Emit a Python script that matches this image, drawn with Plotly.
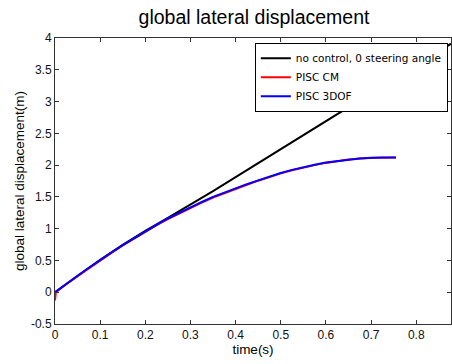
import plotly.graph_objects as go

# ---- data ----
t_black = [0, 0.05, 0.1, 0.15, 0.2, 0.25, 0.3, 0.35, 0.4, 0.45, 0.5, 0.55, 0.6,
           0.65, 0.7, 0.75, 0.8, 0.85, 0.877]
y_black = [0, 0.26, 0.51, 0.745, 0.965, 1.17, 1.375, 1.59, 1.81, 2.03, 2.25, 2.47, 2.69,
           2.91, 3.13, 3.35, 3.57, 3.79, 3.91]

t_blue = [0, 0.025, 0.05, 0.075, 0.1, 0.125, 0.15, 0.175, 0.2, 0.225, 0.25, 0.275, 0.3,
          0.325, 0.35, 0.375, 0.4, 0.425, 0.45, 0.475, 0.5, 0.525, 0.55, 0.575, 0.6,
          0.625, 0.65, 0.675, 0.7, 0.725, 0.75, 0.755]
y_blue = [0, 0.135, 0.26, 0.385, 0.51, 0.625, 0.74, 0.85, 0.96, 1.06, 1.16, 1.25, 1.34,
          1.42, 1.5, 1.57, 1.635, 1.7, 1.76, 1.82, 1.875, 1.925, 1.97, 2.005, 2.04,
          2.065, 2.09, 2.105, 2.115, 2.12, 2.12, 2.12]

t_red = [0, 0.002, 0.025, 0.05, 0.075, 0.1, 0.125, 0.15, 0.175, 0.2, 0.225, 0.25, 0.275,
         0.3, 0.325, 0.35, 0.375, 0.4, 0.425, 0.45, 0.475, 0.5, 0.525, 0.55, 0.575, 0.6,
         0.625, 0.65, 0.675, 0.7, 0.725, 0.75, 0.755]
y_red = [-0.13, 0.0, 0.13, 0.255, 0.38, 0.505, 0.62, 0.735, 0.845, 0.955, 1.055, 1.15,
         1.24, 1.33, 1.41, 1.49, 1.56, 1.625, 1.69, 1.755, 1.815, 1.87, 1.92, 1.965, 2.0,
         2.035, 2.062, 2.088, 2.104, 2.114, 2.12, 2.12, 2.12]

x_ticks = [0, 0.1, 0.2, 0.3, 0.4, 0.5, 0.6, 0.7, 0.8]
y_ticks = [-0.5, 0, 0.5, 1, 1.5, 2, 2.5, 3, 3.5, 4]

font_family = "Liberation Sans, Arial, sans-serif"
legend_family = "DejaVu Sans, Liberation Sans, sans-serif"

fig = go.Figure()
fig.add_trace(go.Scatter(x=t_black, y=y_black, mode="lines", name="no control, 0 steering angle",
                         line=dict(color="black", width=2)))
fig.add_trace(go.Scatter(x=t_red, y=y_red, mode="lines", name="PISC CM",
                         line=dict(color="red", width=2)))
fig.add_trace(go.Scatter(x=t_blue, y=y_blue, mode="lines", name="PISC 3DOF",
                         line=dict(color="blue", width=2)))

axis_common = dict(
    showgrid=False, zeroline=False, showline=True, linecolor="#333333", linewidth=1,
    mirror="ticks", ticks="inside", ticklen=4, tickcolor="#333333", automargin=False,
    tickfont=dict(family=font_family, size=12, color="#111111"),
)

fig.update_layout(
    width=452, height=364,
    margin=dict(l=55, r=1, t=38, b=40),
    paper_bgcolor="white", plot_bgcolor="white",
    font=dict(family=font_family, color="black"),
    title=dict(text="global lateral displacement", x=254 / 452, xanchor="center",
               y=1 - 17 / 364, yanchor="middle", yref="container",
               font=dict(family=font_family, size=19.5, color="black")),
    xaxis=dict(range=[0, 0.877], tickvals=x_ticks, ticktext=[f"{v:g}" for v in x_ticks],
               title=dict(text="time(s)", standoff=1, font=dict(size=13.5, family=font_family)),
               **axis_common),
    yaxis=dict(range=[-0.5, 4], tickvals=y_ticks, ticktext=[f"{v:g}" for v in y_ticks],
               title=dict(text="global lateral displacement(m)", standoff=3,
                          font=dict(size=13.5, family=font_family)),
               **axis_common),
    legend=dict(x=0.992, y=0.983, xanchor="right", yanchor="top",
                bgcolor="white", bordercolor="black", borderwidth=1,
                font=dict(family=legend_family, size=10.5, color="black"),
                tracegroupgap=0, itemwidth=30),
    showlegend=True,
)

fig.write_html("out.html", post_script="document.body.style.margin='0';",
               config={"displayModeBar": False})
